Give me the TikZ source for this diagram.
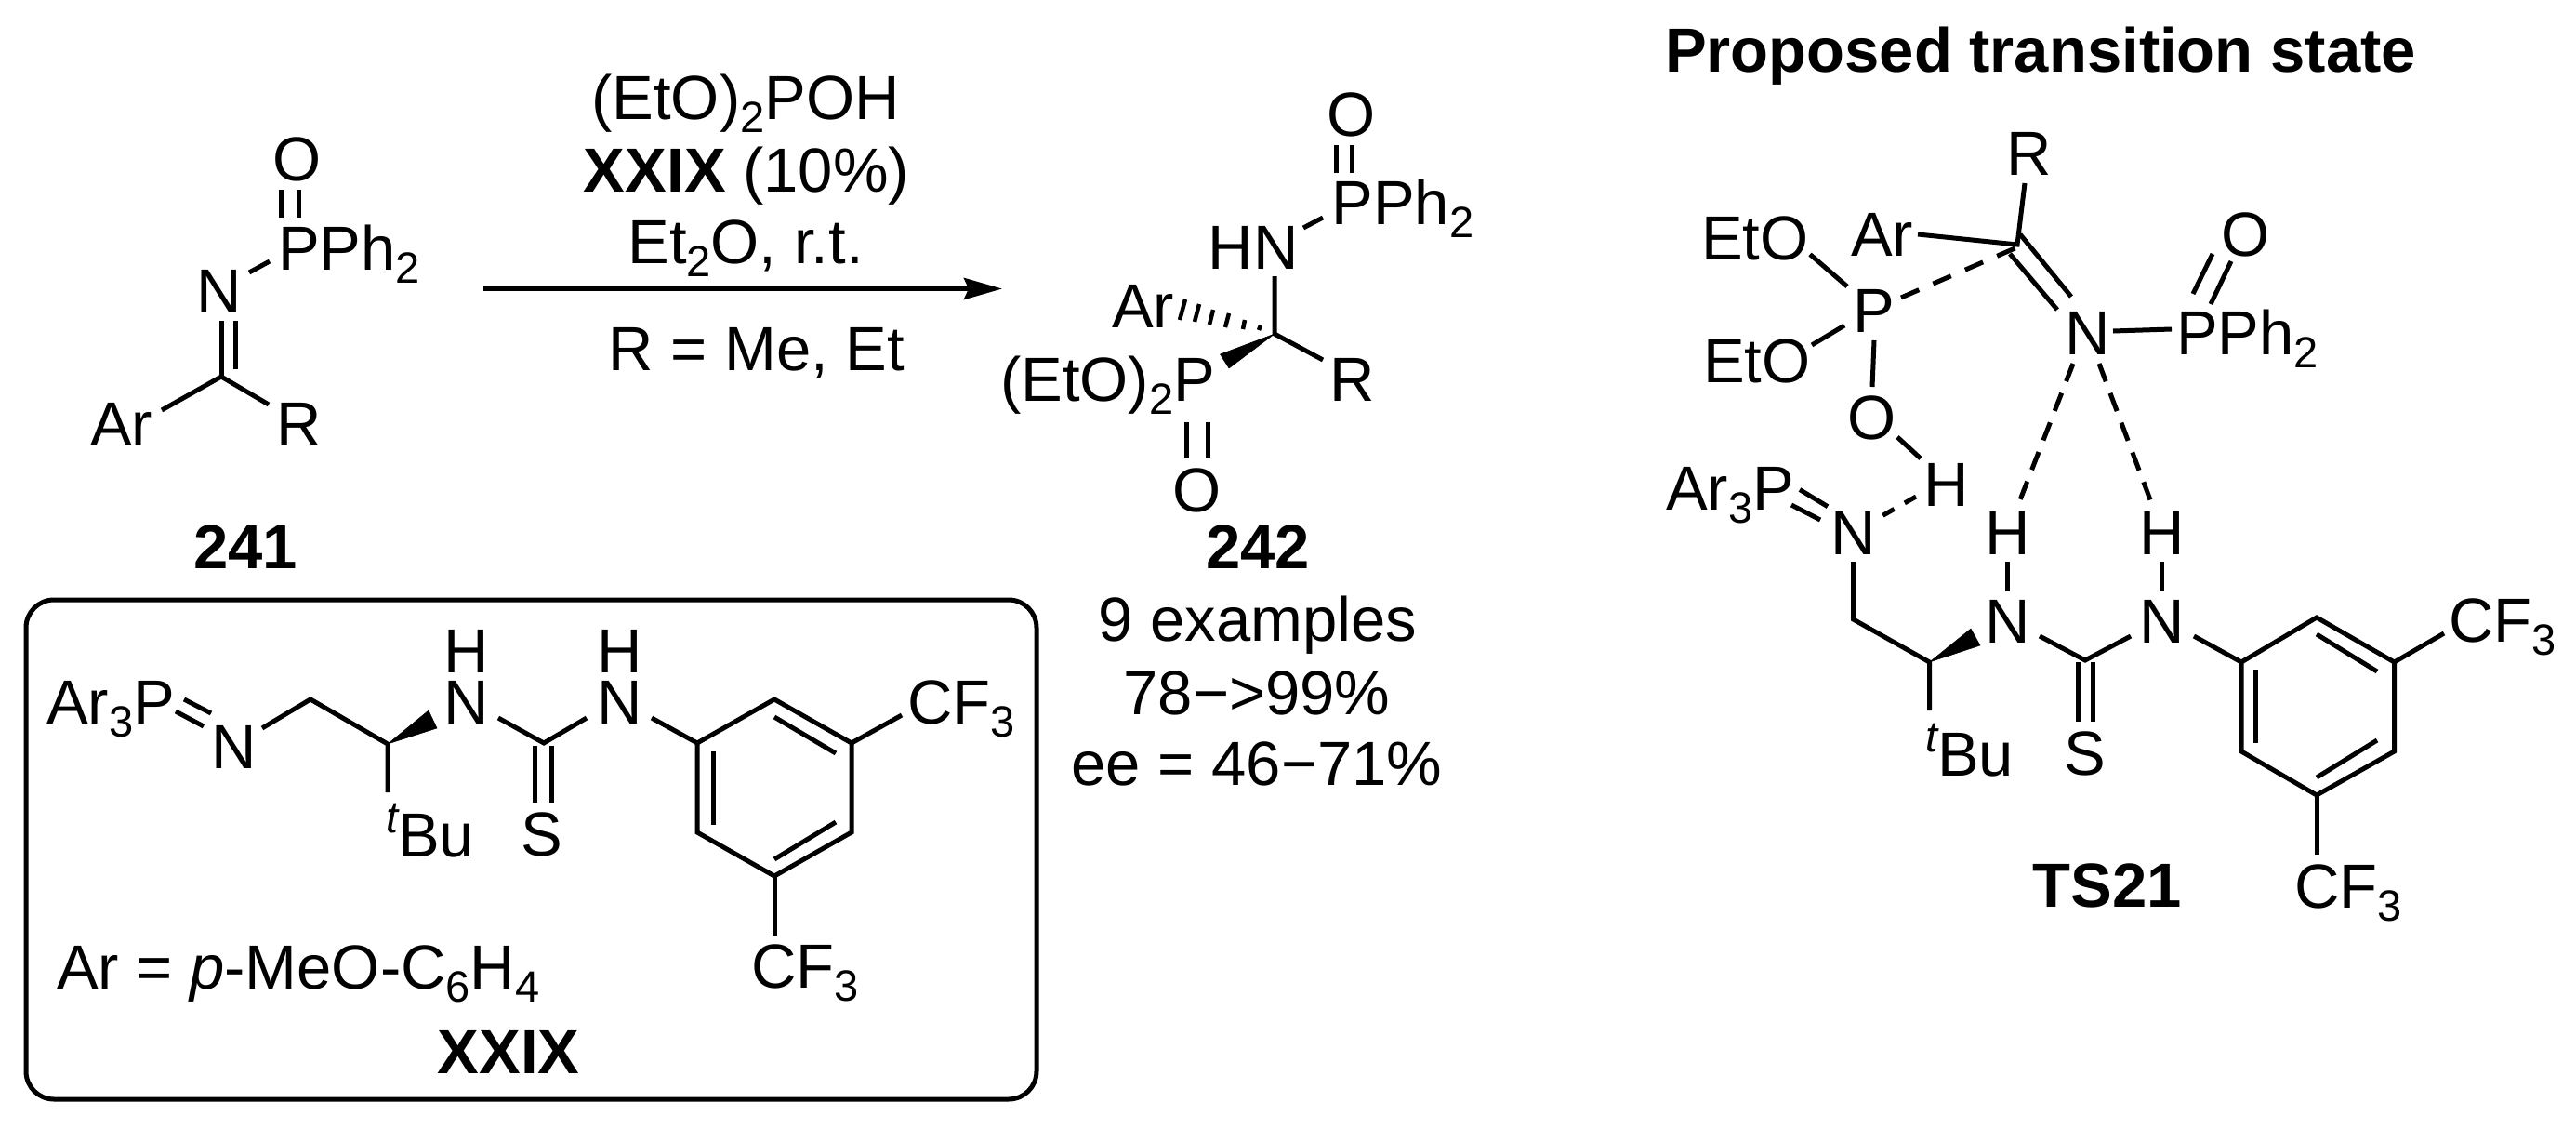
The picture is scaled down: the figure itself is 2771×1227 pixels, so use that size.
\documentclass[tikz,border=0pt]{standalone}
\usepackage{fontspec}
\setmainfont{Liberation Sans}
\usetikzlibrary{arrows.meta}
\newcommand{\sbs}[1]{\raisebox{-14pt}{\fontsize{47}{47}\selectfont #1}}
\newcommand{\tsup}{\raisebox{26pt}{\fontsize{47}{47}\selectfont\itshape t}}
\newcommand{\pts}[1]{\foreach \nm/\xx/\yy in {#1}{\coordinate (\nm) at (\xx,\yy);}}
\tikzset{
  atom/.style={inner sep=0pt,outer sep=0pt,anchor=base,font=\fontsize{67}{72}\selectfont},
  atomw/.style={atom,anchor=base west},
  bond/.style={line width=5pt,line join=miter,line cap=butt},
  hbond/.style={bond,dash pattern=on 20.5pt off 13.5pt},
  hbondc/.style={bond,dash pattern=on 21pt off 16.5pt},
  hbonds/.style={bond,dash pattern=on 14pt off 13pt},
  hashm/.style={line width=4.5pt},
  wedge/.style={fill=black,draw=black,line width=0.5pt},
  rxn/.style={line width=5pt,-{Stealth[length=41pt,width=23pt,inset=5pt]}},
  frame/.style={line width=5pt,rounded corners=30pt}
}
\begin{document}
\begin{tikzpicture}[x=1pt,y=-1pt]
\useasboundingbox (0,0) rectangle (2771,1227);
% ---------- 241
\node[atom] (a-O) at (320,194) {O};
\node[atomw] (a-P) at (299,290) {PPh\sbs{2}};
\node[atom] (a-N) at (236,336) {N};
\node[atomw] (a-Ar) at (97,479) {Ar};
\node[atomw] (a-R) at (297,479) {R};
\node[atom] (a-lab) at (264,611) {\textbf{241}};
\pts{a1/302/204,a2/302/234,a3/321/204,a4/321/234,a5/268/293,a6/290/281,a7/238/345,a8/238/405,a9/253/345,a10/253/397,a11/174/441,a12/289/435}
\draw[bond] (a1)--(a2); \draw[bond] (a3)--(a4); \draw[bond] (a5)--(a6);
\draw[bond] (a7)--(a8); \draw[bond] (a9)--(a10);
\draw[bond] (a11)--(a8)--(a12);
% ---------- reagents and arrow
\node[atom] (r1) at (802,128) {(EtO)\sbs{2}POH};
\node[atom] (r2) at (803,206) {\textbf{XXIX} (10\%)};
\node[atom] (r3) at (802,283) {Et\sbs{2}O, r.t.};
\node[atom] (r4) at (814,398) {R = Me, Et};
\coordinate (arrS) at (520,310.5); \coordinate (arrE) at (1078,310.5);
\draw[rxn] (arrS)--(arrE);
% ---------- 242
\node[atom] (b-O1) at (1454,146) {O};
\node[atomw] (b-P1) at (1432.5,241) {PPh\sbs{2}};
\node[atom] (b-HN) at (1348,289) {HN};
\node[atomw] (b-Ar) at (1196,352) {Ar};
\node[atomw] (b-R) at (1430,431) {R};
\node[atomw] (b-P2) at (1076,431) {(EtO)\sbs{2}P};
\node[atom] (b-O2) at (1288,550) {O};
\node[atom] (b-lab) at (1353,611) {\textbf{242}};
\node[atom] (b-t1) at (1353,689) {9 examples};
\node[atom] (b-t2) at (1352,768) {78−>99\%};
\node[atom] (b-t3) at (1352,844) {ee = 46−71\%};
\pts{b1/1437.5/156,b2/1437.5/186,b3/1454.5/156,b4/1454.5/186,b5/1402/245,b6/1423/234,b7/1371/297,b8/1371/359,b9/1423/387,b10/1312.5/381,b11/1322/396,b12/1276/454,b13/1276/493,b14/1299/454,b15/1299/493}
\draw[bond] (b1)--(b2); \draw[bond] (b3)--(b4); \draw[bond] (b5)--(b6);
\draw[bond] (b7)--(b8)--(b9);
\fill[wedge] (b8)--(b10)--(b11)--cycle;
\draw[bond] (b12)--(b13); \draw[bond] (b14)--(b15);
\pts{h1a/1269/344,h1b/1275/322,h2a/1285/346,h2b/1290/327,h3a/1301/349,h3b/1305/333,h4a/1318/352,h4b/1322/337,h5a/1337/354,h5b/1339/344,h6a/1354/355,h6b/1356/350}
\foreach \i in {1,...,6}{\draw[hashm] (h\i a)--(h\i b);}
% ---------- box XXIX
\coordinate (boxA) at (28,645); \coordinate (boxB) at (1115,1182);
\draw[frame] (boxA) rectangle (boxB);
\node[atomw] (c-P) at (50,778) {Ar\sbs{3}P};
\node[atom] (c-N) at (252,826) {N};
\node[atomw] (c-tBu) at (415,921) {\tsup Bu};
\node[atom] (c-N1) at (502,778) {N};
\node[atom] (c-H1) at (502,723) {H};
\node[atom] (c-N2) at (667,778) {N};
\node[atom] (c-H2) at (667,723) {H};
\node[atom] (c-S) at (583,920) {S};
\node[atomw] (c-CF1) at (976,778) {CF\sbs{3}};
\node[atomw] (c-CF2) at (808,1062) {CF\sbs{3}};
\node[atomw] (c-def) at (61,1063) {Ar = \textit{p}-MeO-C\sbs{6}H\sbs{4}};
\node[atom] (c-lab) at (547,1154) {\textbf{XXIX}};
\pts{c1/198/752,c2/227/767,c3/189/765,c4/219/781,c5/282/783,c6/334/752,c7/417/800,c8/417/852,c9/461/764,c10/470/783,c11/536/772,c12/585/799,c13/631/772,c14/575/802,c15/575/863,c16/593/802,c17/593/863,c18/701/772}
\draw[bond] (c1)--(c2); \draw[bond] (c3)--(c4);
\draw[bond] (c5)--(c6)--(c7)--(c8);
\fill[wedge] (c7)--(c9)--(c10)--cycle;
\draw[bond] (c11)--(c12)--(c13);
\draw[bond] (c14)--(c15); \draw[bond] (c16)--(c17);
\pts{ca/750/799,cb/833/752,cc/916/799,cd/916/895,ce/833/942,cf/750/895,ci1/833/771,ci2/899/810,ci3/767/808,ci4/767/887,ci5/899/884,ci6/833/924,cx1/970/769,cx2/833/1006}
\draw[bond] (c18)--(ca);
\draw[bond] (ca)--(cb)--(cc)--(cd)--(ce)--(cf)--cycle;
\draw[bond] (ci1)--(ci2); \draw[bond] (ci3)--(ci4); \draw[bond] (ci5)--(ci6);
\draw[bond] (cc)--(cx1); \draw[bond] (ce)--(cx2);
% ---------- TS21
\node[atomw] (t-title) at (1791,77) {\textbf{Proposed transition state}};
\node[atom] (t-R) at (2183,188.5) {R};
\node[atomw] (t-Ar) at (1991,275.5) {Ar};
\node[atomw] (t-E1) at (1830,279) {EtO};
\node[atomw] (t-E2) at (1832,411) {EtO};
\node[atom] (t-P) at (2015.5,357) {P};
\node[atom] (t-O) at (2014,472) {O};
\node[atom] (t-H0) at (2094,544) {H};
\node[atomw] (t-AP) at (1792,548) {Ar\sbs{3}P};
\node[atom] (t-N0) at (1993.5,596) {N};
\node[atom] (t-N) at (2245.5,381) {N};
\node[atomw] (t-PP) at (2341,381) {PPh\sbs{2}};
\node[atom] (t-O2) at (2416,275.5) {O};
\node[atom] (t-H1) at (2160,596) {H};
\node[atom] (t-H2) at (2325.5,596) {H};
\node[atom] (t-N1) at (2160,691) {N};
\node[atom] (t-N2) at (2325.5,691) {N};
\node[atom] (t-S) at (2243,833) {S};
\node[atomw] (t-tBu) at (2071,834) {\tsup Bu};
\node[atomw] (t-CF1) at (2634,690) {CF\sbs{3}};
\node[atomw] (t-CF2) at (2468,976) {CF\sbs{3}};
\node[atom] (t-lab) at (2267,975) {\textbf{TS21}};
\pts{t1/2178/197,t2/2170/263,t3/2063/252,t5/2173/252,t6/2228/319,t7/2162/273,t8/2213/333,t9/2045/320,t10/2172/265,t11/2273/356,t12/2336/354,t13/2380/273,t14/2359/316,t15/2400/281,t16/2378/327,t17/1947/273.5,t18/1987/308,t19/1949/371,t20/1984/350,t21/2016/366,t22/2014/416,t23/2041/470,t24/2066/493,t25/2061/534,t26/2025/554.5,t27/1936/526.5,t28/1966/544.7,t29/1927/543,t30/1958/559,t31/2230/391,t32/2173/537.5,t33/2258/391,t34/2313/537.5}
\draw[bond] (t1)--(t2)--(t3);
\draw[bond] (t5)--(t6); \draw[bond] (t7)--(t8);
\draw[hbondc] (t9)--(t10);
\draw[bond] (t11)--(t12);
\draw[bond] (t13)--(t14); \draw[bond] (t15)--(t16);
\draw[bond] (t17)--(t18); \draw[bond] (t19)--(t20); \draw[bond] (t21)--(t22);
\draw[bond] (t23)--(t24);
\draw[hbonds] (t25)--(t26);
\draw[bond] (t27)--(t28); \draw[bond] (t29)--(t30);
\draw[hbond] (t31)--(t32); \draw[hbond] (t33)--(t34);
\pts{u1/1993.5/604,u2/1993.5/666,u3/2075.5/712,u4/2075.5/764,u5/2120/676,u6/2130/694,u7/2159/604,u8/2159/636,u9/2325.5/604,u10/2325.5/636,u11/2194/684,u12/2243/710,u13/2292/684,u14/2235/712,u15/2235/776,u16/2251/712,u17/2251/776,u18/2360/684}
\draw[bond] (u1)--(u2)--(u3)--(u4);
\fill[wedge] (u3)--(u5)--(u6)--cycle;
\draw[bond] (u7)--(u8); \draw[bond] (u9)--(u10);
\draw[bond] (u11)--(u12)--(u13);
\draw[bond] (u14)--(u15); \draw[bond] (u16)--(u17);
\pts{ua/2411/712,ub/2492/664,uc/2575.5/712,ud/2575.5/808,ue/2492/855,uf/2411/808,ui1/2492/682,ui2/2557/722,ui3/2426/720,ui4/2426/799,ui5/2557/796,ui6/2492/836,ux1/2629/681,ux2/2492/919}
\draw[bond] (u18)--(ua);
\draw[bond] (ua)--(ub)--(uc)--(ud)--(ue)--(uf)--cycle;
\draw[bond] (ui1)--(ui2); \draw[bond] (ui3)--(ui4); \draw[bond] (ui5)--(ui6);
\draw[bond] (uc)--(ux1); \draw[bond] (ue)--(ux2);
\end{tikzpicture}
\end{document}
